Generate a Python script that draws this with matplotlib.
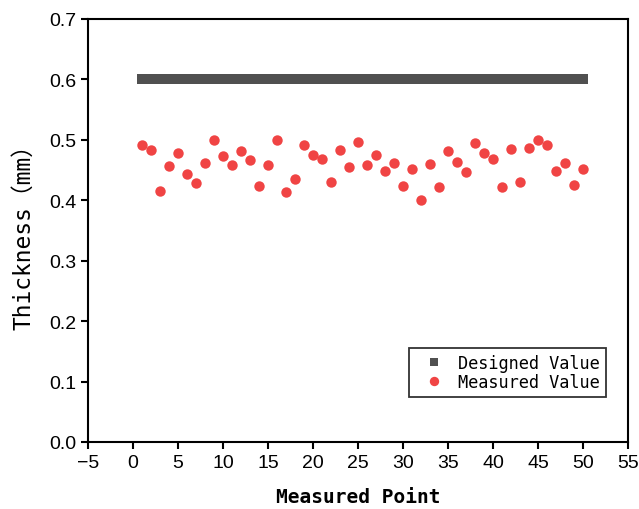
import matplotlib
matplotlib.use("Agg")
import matplotlib.pyplot as plt
from matplotlib.ticker import FormatStrFormatter

points = list(range(1, 51))
designed = [0.6] * 50
measured = [0.491, 0.484, 0.415, 0.456, 0.479, 0.443, 0.428, 0.461, 0.500, 0.474,
            0.458, 0.481, 0.466, 0.424, 0.458, 0.500, 0.413, 0.436, 0.492, 0.475,
            0.468, 0.431, 0.484, 0.455, 0.496, 0.458, 0.475, 0.449, 0.462, 0.424,
            0.451, 0.400, 0.460, 0.422, 0.481, 0.464, 0.447, 0.495, 0.479, 0.469,
            0.422, 0.485, 0.431, 0.487, 0.500, 0.492, 0.449, 0.462, 0.425, 0.451]
xticks = list(range(-5, 60, 5))
yticks = [0.0, 0.1, 0.2, 0.3, 0.4, 0.5, 0.6, 0.7]

mono = ['DejaVu Sans Mono', 'Noto Sans CJK SC']
sans = ['Liberation Sans', 'Noto Sans CJK SC']

fig = plt.figure(figsize=(6.39, 5.10), dpi=100)
ax = fig.add_axes([0.1377, 0.1314, 0.8451, 0.8294])

ax.plot(points, designed, linestyle='none', marker='s', markersize=7,
        color='#505050', markeredgewidth=0, label='Designed Value')
ax.plot(points, measured, linestyle='none', marker='o', markersize=7.5,
        color='#f04444', markeredgewidth=0, label='Measured Value')

ax.set_xlim(-5, 55)
ax.set_ylim(0, 0.7)
ax.set_xticks(xticks)
ax.set_yticks(yticks)
ax.yaxis.set_major_formatter(FormatStrFormatter('%.1f'))
for s in ax.spines.values():
    s.set_linewidth(1.5)
ax.tick_params(direction='out', length=5, width=1.5, labelsize=14)
for lab in ax.get_xticklabels() + ax.get_yticklabels():
    lab.set_family(sans)

ax.set_xlabel('Measured Point', family=mono, fontsize=14, fontweight='bold', labelpad=12)
ax.set_ylabel('Thickness（mm）', family=mono, fontsize=16.5, labelpad=10)

leg = ax.legend(loc='lower right', bbox_to_anchor=(0.959, 0.106), borderaxespad=0,
                prop={'family': mono, 'size': 12.2},
                frameon=True, fancybox=False, edgecolor='black', handletextpad=0.35,
                borderpad=0.35, labelspacing=0.1, handlelength=2.2, markerscale=0.9)
leg.get_frame().set_linewidth(1.3)

fig.savefig('out.png', dpi=100)
